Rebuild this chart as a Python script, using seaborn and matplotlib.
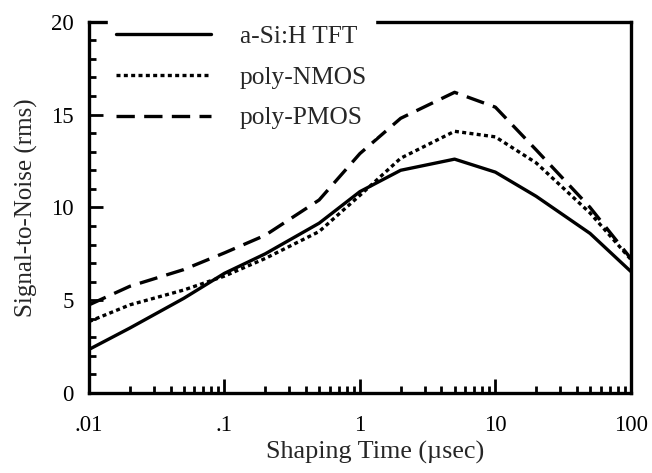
import numpy as np
import pandas as pd
import matplotlib
matplotlib.use('Agg')
import matplotlib.pyplot as plt
import seaborn as sns
from matplotlib.ticker import LogLocator, FixedLocator, NullFormatter
from matplotlib.lines import Line2D

# data
shaping_time = [0.01, 0.02, 0.05, 0.1, 0.2, 0.5, 1, 2, 5, 10, 20, 50, 100]
a_si_tft = [2.35, 3.5, 5.1, 6.45, 7.5, 9.15, 10.85, 12.0, 12.6, 11.9, 10.6, 8.6, 6.55]
poly_nmos = [3.85, 4.75, 5.55, 6.3, 7.25, 8.7, 10.65, 12.65, 14.1, 13.8, 12.4, 9.7, 7.2]
poly_pmos = [4.75, 5.75, 6.65, 7.55, 8.5, 10.4, 12.9, 14.8, 16.2, 15.4, 13.1, 10.0, 7.25]
series_names = ['a-Si:H TFT', 'poly-NMOS', 'poly-PMOS']

df = pd.concat([
    pd.DataFrame({'t': shaping_time, 'snr': vals, 'device': name})
    for name, vals in zip(series_names, [a_si_tft, poly_nmos, poly_pmos])
])

sns.set_theme(style="ticks")
plt.rcParams['font.family'] = ['Liberation Serif', 'DejaVu Serif']

fig = plt.figure(figsize=(6.52, 4.73), dpi=100)
ax = fig.add_axes([0.1365, 0.169, 0.831, 0.785])

dotted = (1.2, 1.0)
dashed = (5.5, 2.8)
dashes = {'a-Si:H TFT': '', 'poly-NMOS': dotted, 'poly-PMOS': dashed}
sns.lineplot(data=df, x='t', y='snr', hue='device', style='device',
             palette=['black'] * 3, dashes=dashes, linewidth=2.4, ax=ax,
             legend=False)

ax.set_xscale('log')
ax.set_xlim(0.01, 100)
ax.set_ylim(0, 20)
ax.set_xticks([0.01, 0.1, 1, 10, 100])
ax.set_xticklabels(['.01', '.1', '1', '10', '100'])
ax.xaxis.set_minor_locator(LogLocator(base=10, subs=np.arange(2, 10)))
ax.xaxis.set_minor_formatter(NullFormatter())
ax.set_yticks([0, 5, 10, 15, 20])
ax.yaxis.set_minor_locator(FixedLocator(np.arange(0, 21, 1)))

ax.tick_params(which='both', direction='in', top=False, right=False,
               labelsize=16.5, colors='black', width=2)
ax.tick_params(which='major', length=10)
ax.tick_params(axis='x', which='major', pad=15.5)
ax.tick_params(axis='y', which='major', pad=11)
ax.tick_params(which='minor', length=5)

for sp in ax.spines.values():
    sp.set_linewidth(2.4)
    sp.set_color('black')

ax.set_xlabel('Shaping Time (\u00b5sec)', fontsize=18.8)
ax.set_ylabel('Signal-to-Noise (rms)', fontsize=18, labelpad=9)
ax.xaxis.set_label_coords(0.528, -0.128)

handles = [
    Line2D([], [], color='black', lw=2.4, linestyle='-'),
    Line2D([], [], color='black', lw=2.4, linestyle=(0, dotted)),
    Line2D([], [], color='black', lw=2.4, linestyle=(0, dashed)),
]
leg = ax.legend(handles, series_names, loc='upper left', bbox_to_anchor=(0.012, 1.046),
                frameon=True, facecolor='white', edgecolor='white', framealpha=1,
                fancybox=False, handlelength=3.74, handletextpad=1.14,
                labelspacing=0.71, fontsize=18.3, borderpad=0.3)
leg.set_zorder(5)

plt.savefig('out.png', dpi=100)
